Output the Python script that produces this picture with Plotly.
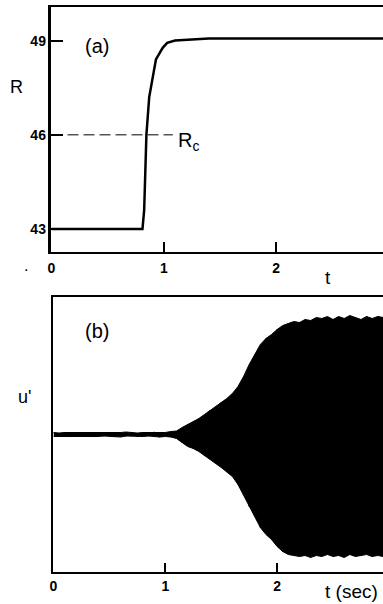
import plotly.graph_objects as go

# ---------------- data ----------------
# panel (a): control parameter R versus time
t_R = [0.0, 0.81, 0.825, 0.835, 0.845, 0.87, 0.90, 0.93, 0.99, 1.03, 1.10, 1.40, 2.00, 3.00]
R_vals = [43.0, 43.0, 43.6, 44.8, 46.0, 47.2, 47.85, 48.4, 48.77, 48.93, 49.0, 49.07, 49.07, 49.07]
R_c = 46.0
t_Rc = [0.0, 1.08]
R_ticks = [43, 46, 49]
t_ticks = [0, 1, 2]

# panel (b): envelope of the velocity fluctuation u' (arbitrary units)
t_u = [0.00, 0.05, 0.10, 0.15, 0.20, 0.25, 0.30, 0.35, 0.40, 0.45,
       0.50, 0.55, 0.60, 0.65, 0.70, 0.75, 0.80, 0.85, 0.90, 0.95,
       1.00, 1.05, 1.10, 1.15, 1.20, 1.25, 1.30, 1.35, 1.40, 1.45,
       1.50, 1.55, 1.60, 1.65, 1.70, 1.75, 1.80, 1.85, 1.90, 1.95,
       2.00, 2.05, 2.10, 2.15, 2.20, 2.25, 2.30, 2.35, 2.40, 2.45,
       2.50, 2.55, 2.60, 2.65, 2.70, 2.75, 2.80, 2.85, 2.90, 2.95]
u_upper = [0.02, 0.015, 0.02, 0.02, 0.015, 0.02, 0.02, 0.015, 0.02, 0.02,
           0.02, 0.015, 0.02, 0.025, 0.02, 0.015, 0.02, 0.02, 0.025, 0.02,
           0.02, 0.03, 0.035, 0.07, 0.10, 0.13, 0.16, 0.20, 0.24, 0.28,
           0.32, 0.36, 0.41, 0.48, 0.58, 0.70, 0.80, 0.90, 0.96, 1.00,
           1.05, 1.09, 1.11, 1.13, 1.12, 1.15, 1.14, 1.17, 1.16, 1.18,
           1.15, 1.18, 1.16, 1.19, 1.17, 1.15, 1.18, 1.16, 1.18, 1.17]
u_lower = [0.02, 0.02, 0.015, 0.02, 0.02, 0.015, 0.02, 0.02, 0.02, 0.015,
           0.02, 0.02, 0.025, 0.015, 0.02, 0.02, 0.02, 0.015, 0.02, 0.025,
           0.02, 0.025, 0.04, 0.08, 0.12, 0.14, 0.17, 0.21, 0.25, 0.29,
           0.33, 0.37, 0.42, 0.50, 0.60, 0.72, 0.82, 0.93, 1.00, 1.05,
           1.12, 1.17, 1.20, 1.21, 1.22, 1.21, 1.23, 1.21, 1.22, 1.20,
           1.22, 1.21, 1.23, 1.20, 1.22, 1.21, 1.20, 1.22, 1.21, 1.22]

# ---------------- figure ----------------
W, H = 383, 604
BLACK = "black"
FONT = "Liberation Sans, Arial, Helvetica, sans-serif"

fig = go.Figure()

# panel (a)
fig.add_trace(go.Scatter(x=t_R, y=R_vals, mode="lines",
                         line=dict(color=BLACK, width=2.5),
                         xaxis="x", yaxis="y", showlegend=False))
fig.add_trace(go.Scatter(x=t_Rc, y=[R_c, R_c], mode="lines",
                         line=dict(color=BLACK, width=1, dash="11px,5px"),
                         xaxis="x", yaxis="y", showlegend=False))

# panel (b): filled envelope + oscillation zig-zag
poly_x = t_u + t_u[::-1]
poly_y = u_upper + [-v for v in u_lower[::-1]]
fig.add_trace(go.Scatter(x=poly_x, y=poly_y, mode="lines", fill="toself",
                         fillcolor=BLACK, line=dict(color=BLACK, width=1),
                         xaxis="x2", yaxis="y2", showlegend=False))
zig_y = [u_upper[i] if i % 2 == 0 else -u_lower[i] for i in range(len(t_u))]
fig.add_trace(go.Scatter(x=t_u, y=zig_y, mode="lines",
                         line=dict(color=BLACK, width=1),
                         xaxis="x2", yaxis="y2", showlegend=False))

tickfont = dict(family=FONT, size=14, color=BLACK, weight="bold")

fig.update_layout(
    width=W, height=H,
    margin=dict(l=0, r=0, t=0, b=0),
    paper_bgcolor="white", plot_bgcolor="white",
    font=dict(family=FONT, color=BLACK),
    xaxis=dict(domain=[48 / W, 1], range=[0, 335 / 113.5], anchor="y",
               showgrid=False, zeroline=False, showline=True, linecolor=BLACK,
               linewidth=2, mirror=True, ticks="inside", ticklen=10,
               tickwidth=1.5, tickcolor=BLACK, tickvals=t_ticks,
               ticktext=[str(v) for v in t_ticks], tickfont=tickfont,
               ticklabelstandoff=2),
    yaxis=dict(domain=[1 - 252 / H, 1 - 7 / H], range=[42.27, 50.07],
               anchor="x", showgrid=False, zeroline=False, showline=True,
               linecolor=BLACK, linewidth=2.5, ticks="inside", ticklen=12,
               tickwidth=1.5, tickcolor=BLACK, tickvals=R_ticks,
               ticktext=[str(v) for v in R_ticks], tickfont=tickfont,
               ticklabelstandoff=0),
    xaxis2=dict(domain=[50 / W, 1], range=[0, 333 / 113.0], anchor="y2",
                showgrid=False, zeroline=False, showline=True, linecolor=BLACK,
                linewidth=2, mirror=True, ticks="inside", ticklen=9,
                tickwidth=1.5, tickcolor=BLACK, tickvals=t_ticks,
                ticktext=[str(v) for v in t_ticks], tickfont=tickfont,
                ticklabelstandoff=0),
    yaxis2=dict(domain=[1 - 572 / H, 1 - 297 / H], range=[-1.375, 1.375],
                anchor="x2", showgrid=False, zeroline=False, showline=True,
                linecolor=BLACK, linewidth=2, showticklabels=False,
                ticks=""),
)

def note(text, px, py, size):
    fig.add_annotation(text=text, x=px / W, y=1 - py / H, xref="paper",
                       yref="paper", showarrow=False, xanchor="center",
                       yanchor="middle",
                       font=dict(family=FONT, size=size, color=BLACK))

note("(a)", 94, 46, 20)
note("R", 13, 87, 18)
note("R<sub>c</sub>", 186, 141, 20)
note("t", 327, 277, 19)
note(".", 22, 266, 16)
note("(b)", 94, 331, 20)
note("u'", 21, 397, 18)
note("t (sec)", 351, 591, 19)

fig.write_html("out.html")
